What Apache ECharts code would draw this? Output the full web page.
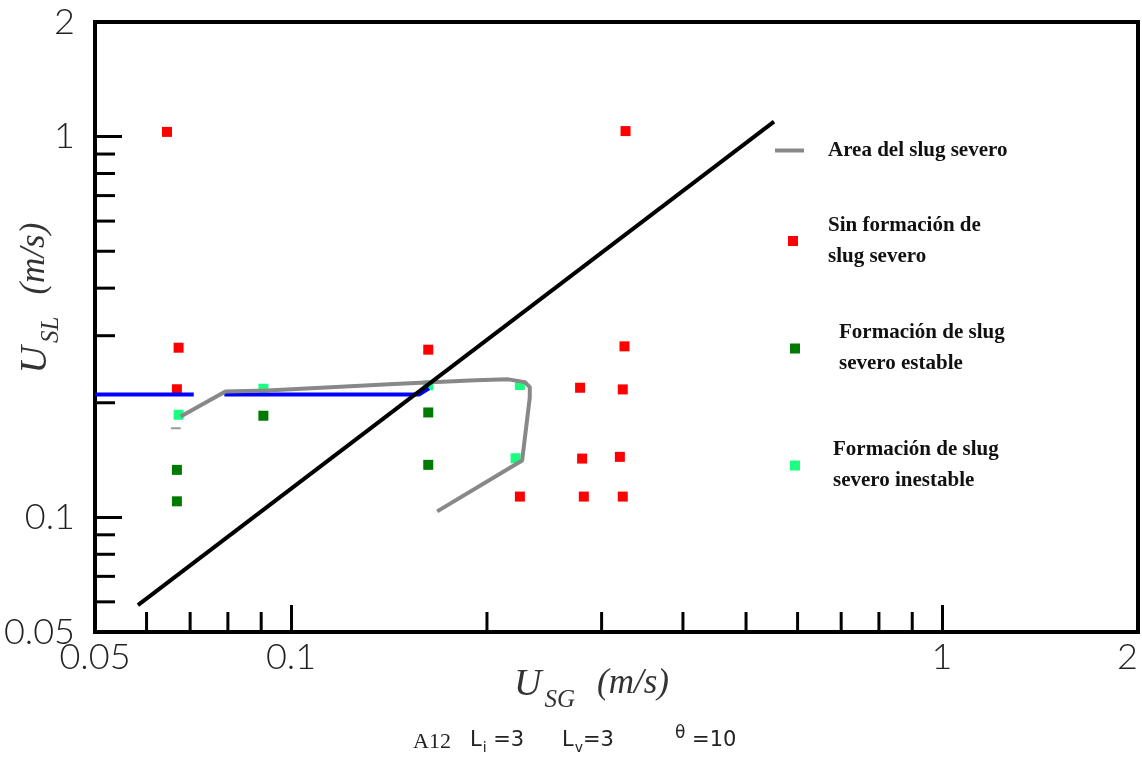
<!DOCTYPE html>
<html><head><meta charset="utf-8">
<script src="https://cdn.jsdelivr.net/npm/echarts@6/dist/echarts.min.js"></script>
<style>html,body{margin:0;padding:0;background:#fff}#c{width:1142px;height:757px}</style>
</head><body><div id="c"></div>
<script>
// ---- axis ranges & ticks ----
const xMin = 0.05, xMax = 2;
const yMin = 0.05, yMax = 2;
const xMinorTicks = [0.06, 0.07, 0.08, 0.09, 0.2, 0.3, 0.4, 0.5, 0.6, 0.7, 0.8, 0.9];
const yMinorTicks = [0.06, 0.07, 0.08, 0.09, 0.2, 0.3, 0.4, 0.5, 0.6, 0.7, 0.8, 0.9];

// ---- series names ----
const nameArea = 'Area del slug severo';
const nameNoSlug = 'Sin formación de slug severo';
const nameStable = 'Formación de slug severo estable';
const nameUnstable = 'Formación de slug severo inestable';

// ---- data (USG, USL in m/s) ----
const noSlugX = [0.0645, 0.3265, 0.0672, 0.0668, 0.1625, 0.3253, 0.278, 0.3233, 0.280, 0.320, 0.2247, 0.2817, 0.3233];
const noSlugY = [1.029, 1.034, 0.279, 0.217, 0.2757, 0.2813, 0.219, 0.2168, 0.1427, 0.1442, 0.1134, 0.1134, 0.1134];
const stableX = [0.0668, 0.0668, 0.0907, 0.1625, 0.1625];
const stableY = [0.1333, 0.1102, 0.1849, 0.1886, 0.1374];
const unstableX = [0.0672, 0.0907, 0.1625, 0.2247, 0.2213];
const unstableY = [0.186, 0.2177, 0.2222, 0.2227, 0.143];
const areaX = [0.0677, 0.0793, 0.0919, 0.1466, 0.1919, 0.2157, 0.2287, 0.2327, 0.2327, 0.2265, 0.1677];
const areaY = [0.184, 0.2142, 0.2155, 0.2244, 0.2290, 0.2304, 0.2266, 0.2198, 0.2065, 0.141, 0.1037];
const boundaryX = [0.0582, 0.552];
const boundaryY = [0.0588, 1.095];
const blueAX = [0.05, 0.0709];
const blueAY = [0.2103, 0.2103];
const blueBX = [0.079, 0.1573, 0.1629];
const blueBY = [0.2103, 0.2103, 0.2182];
const dashX = [0.0654, 0.0677];
const dashY = [0.1714, 0.1714];

const zip = (a, b) => a.map((v, i) => [v, b[i]]);

const legendFont = {fontFamily: '"Liberation Serif", serif', fontWeight: 'bold', fontSize: 21, lineHeight: 31, color: '#111'};
const legendText = {};
legendText[nameArea] = 'Area del slug severo';
legendText[nameNoSlug] = 'Sin formación de\nslug severo';
legendText[nameStable] = 'Formación de slug\nsevero estable';
legendText[nameUnstable] = 'Formación de slug\nsevero inestable';
const fmt = n => legendText[n];

const axisLabelStyle = {fontFamily: 'Lato, "Liberation Sans", sans-serif', fontWeight: 300, fontSize: 36, color: '#222'};
const titleRich = {
  u: {fontFamily: '"Liberation Serif", serif', fontStyle: 'italic', fontSize: 38, lineHeight: 38, color: '#333', verticalAlign: 'top'},
  s: {fontFamily: '"Liberation Serif", serif', fontStyle: 'italic', fontSize: 25, lineHeight: 24, color: '#333', verticalAlign: 'top', padding: [22, 0, 0, 3]},
  n: {fontFamily: '"Liberation Serif", serif', fontStyle: 'italic', fontSize: 35, lineHeight: 38, color: '#333', verticalAlign: 'top', padding: [0, 0, 0, 22]}
};

const tickRender = (dir) => (params, api) => {
  const p = api.coord([api.value(0), api.value(1)]);
  const len = 20;
  return {
    type: 'line',
    shape: dir === 'x' ? {x1: p[0], y1: p[1], x2: p[0], y2: p[1] - len} : {x1: p[0], y1: p[1], x2: p[0] + len, y2: p[1]},
    style: {stroke: '#000', lineWidth: 3}
  };
};

const capSans = '"DejaVu Sans", sans-serif';

const chart = echarts.init(document.getElementById('c'));
chart.setOption({
  animation: false,
  backgroundColor: '#fff',
  grid: {left: 95, right: 4, top: 22, bottom: 125, show: true, borderColor: '#000', borderWidth: 4,
         containLabel: false, outerBoundsMode: 'none'},
  xAxis: {
    type: 'log', logBase: 10, min: xMin, max: xMax,
    splitLine: {show: false},
    axisLine: {lineStyle: {color: '#000', width: 4}},
    axisTick: {inside: true, length: 27, lineStyle: {color: '#000', width: 3}},
    axisLabel: Object.assign({margin: 7, alignMaxLabel: 'right'}, axisLabelStyle),
    name: '{u|U}{s|SG}{n|(m/s)}',
    nameLocation: 'middle', nameGap: 34, nameMoveOverlap: false,
    nameTextStyle: {rich: titleRich, padding: [0, 50, 0, 0]}
  },
  yAxis: {
    type: 'log', logBase: 10, min: yMin, max: yMax,
    splitLine: {show: false},
    axisLine: {lineStyle: {color: '#000', width: 4}},
    axisTick: {inside: true, length: 27, lineStyle: {color: '#000', width: 3}},
    axisLabel: Object.assign({margin: 20}, axisLabelStyle),
    name: '{u|U}{s|SL}{n|(m/s)}',
    nameLocation: 'middle', nameGap: 40, nameMoveOverlap: false,
    nameTextStyle: {rich: titleRich, padding: [0, 0, 0, 58]}
  },
  legend: [
    {left: 775, top: 131, padding: 0, itemWidth: 29, itemHeight: 4, selectedMode: false,
     itemStyle: {borderWidth: 0}, formatter: fmt,
     data: [{name: nameArea, icon: 'rect'}],
     textStyle: Object.assign({padding: [0, 0, 8, 19]}, legendFont)},
    {left: 788, top: 210, padding: 0, itemWidth: 10, itemHeight: 10, selectedMode: false,
     itemStyle: {borderWidth: 0}, formatter: fmt,
     data: [{name: nameNoSlug, icon: 'rect'}],
     textStyle: Object.assign({padding: [0, 0, 0, 25]}, legendFont)},
    {left: 790, top: 306, padding: 0, itemWidth: 10, itemHeight: 10, selectedMode: false,
     itemStyle: {borderWidth: 0}, formatter: fmt,
     data: [{name: nameStable, icon: 'rect'}],
     textStyle: Object.assign({padding: [23, 0, 0, 34]}, legendFont)},
    {left: 790, top: 418, padding: 0, itemWidth: 10, itemHeight: 10, selectedMode: false,
     itemStyle: {borderWidth: 0}, formatter: fmt,
     data: [{name: nameUnstable, icon: 'rect'}],
     textStyle: Object.assign({padding: [33, 0, 0, 28]}, legendFont)}
  ],
  graphic: [
    {type: 'text', left: 413, top: 731, style: {text: 'A12', font: '22px "Liberation Serif", serif', fill: '#222'}},
    {type: 'text', left: 470, top: 730, style: {text: '{l|L}{s|i}{l| =3}', rich: {
      l: {fontFamily: capSans, fontSize: 21, lineHeight: 22, fill: '#222', verticalAlign: 'top'},
      s: {fontFamily: capSans, fontSize: 14, lineHeight: 14, fill: '#222', verticalAlign: 'top', padding: [11, 0, 0, 1]}}}},
    {type: 'text', left: 562, top: 730, style: {text: '{l|L}{s|v}{l|=3}', rich: {
      l: {fontFamily: capSans, fontSize: 21, lineHeight: 22, fill: '#222', verticalAlign: 'top'},
      s: {fontFamily: capSans, fontSize: 14, lineHeight: 14, fill: '#222', verticalAlign: 'top', padding: [11, 0, 0, 1]}}}},
    {type: 'text', left: 675, top: 725, style: {text: '{t|θ}{l| =10}', rich: {
      t: {fontFamily: capSans, fontSize: 17, lineHeight: 18, fill: '#222', verticalAlign: 'top'},
      l: {fontFamily: capSans, fontSize: 21, lineHeight: 22, fill: '#222', verticalAlign: 'top', padding: [5, 0, 0, 0]}}}}
  ],
  series: [
    {type: 'custom', name: 'xMinor', silent: true, z: 6, renderItem: tickRender('x'), data: xMinorTicks.map(v => [v, yMin])},
    {type: 'custom', name: 'yMinor', silent: true, z: 6, renderItem: tickRender('y'), data: yMinorTicks.map(v => [xMin, v])},
    {type: 'scatter', name: nameNoSlug, symbol: 'rect', symbolSize: 10, z: 2, color: '#ff0000', itemStyle: {opacity: 1}, data: zip(noSlugX, noSlugY)},
    {type: 'scatter', name: nameStable, symbol: 'rect', symbolSize: 10, z: 2, color: '#007a00', itemStyle: {opacity: 1}, data: zip(stableX, stableY)},
    {type: 'scatter', name: nameUnstable, symbol: 'rect', symbolSize: 10, z: 2, color: '#1aff80', itemStyle: {opacity: 1}, data: zip(unstableX, unstableY)},
    {type: 'line', name: 'blueA', z: 3, symbol: 'none', color: '#0000ff', lineStyle: {width: 4, color: '#0000ff'}, data: zip(blueAX, blueAY)},
    {type: 'line', name: 'blueB', z: 3, symbol: 'none', color: '#0000ff', lineStyle: {width: 4, color: '#0000ff'}, data: zip(blueBX, blueBY)},
    {type: 'line', name: nameArea, z: 4, symbol: 'none', color: '#888888', lineStyle: {width: 4, color: '#888888', join: 'round'}, data: zip(areaX, areaY)},
    {type: 'line', name: 'dash', z: 4, symbol: 'none', color: '#999999', lineStyle: {width: 2, color: '#999999'}, data: zip(dashX, dashY)},
    {type: 'line', name: 'boundary', z: 5, symbol: 'none', color: '#000', lineStyle: {width: 4, color: '#000'}, data: zip(boundaryX, boundaryY)}
  ]
});
</script>
</body></html>
